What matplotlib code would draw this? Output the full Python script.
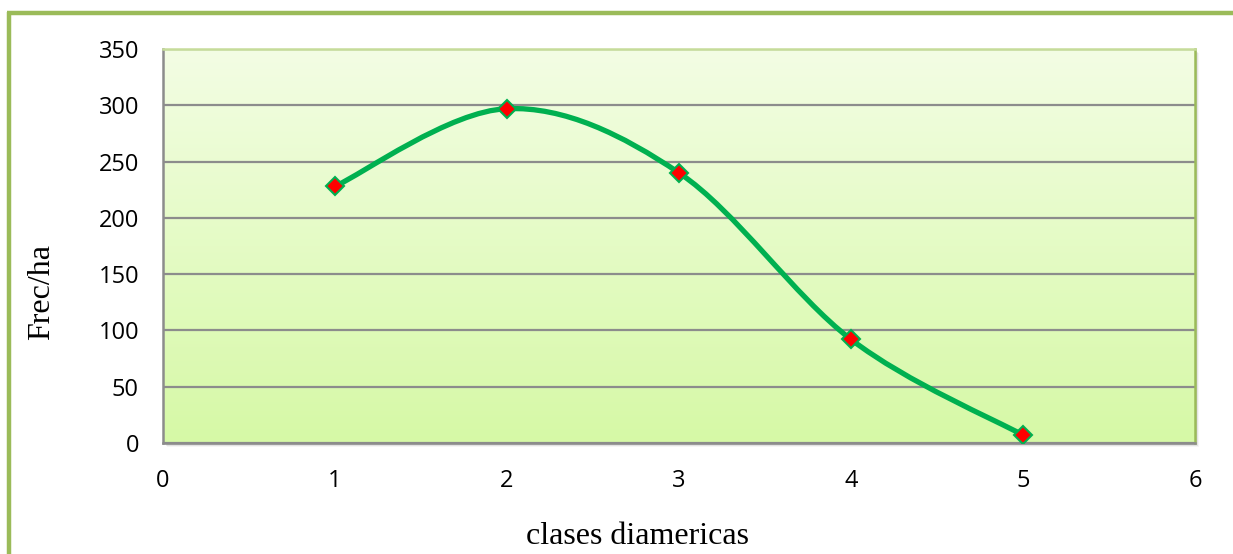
import numpy as np
import matplotlib
matplotlib.use("Agg")
import matplotlib.pyplot as plt
from matplotlib.path import Path
from matplotlib.patches import PathPatch, Rectangle
from matplotlib.lines import Line2D

# diameter classes and stems per hectare
clases = [1, 2, 3, 4, 5]
frec_ha = [228, 297, 240, 92, 7]
x_ticks = [0, 1, 2, 3, 4, 5, 6]
y_ticks = [0, 50, 100, 150, 200, 250, 300, 350]

W, H = 1233, 554
fig = plt.figure(figsize=(W / 100, H / 100), dpi=100)
fig.patch.set_facecolor("white")

# outer green frame (top and left edges)
frame_c = "#9bbb59"
fig.add_artist(Line2D([7 / W, 1.0], [1 - 13 / H, 1 - 13 / H], color=frame_c, lw=3.2,
                      solid_capstyle="butt", transform=fig.transFigure))
fig.add_artist(Line2D([8.5 / W, 8.5 / W], [0, 1 - 11.5 / H], color=frame_c, lw=3.2,
                      solid_capstyle="butt", transform=fig.transFigure))

left, right, top, bottom = 163, 1195, 49, 443
ax_rect = [left / W, 1 - bottom / H, (right - left) / W, (bottom - top) / H]

# soft drop shadow behind plot area
for i, a in enumerate([0.10, 0.07, 0.04]):
    off = (i + 2)
    fig.add_artist(Rectangle(((left + off) / W, 1 - (bottom + off) / H),
                             (right - left) / W, (bottom - top) / H,
                             transform=fig.transFigure, facecolor="black",
                             edgecolor="none", alpha=a, zorder=0))

ax = fig.add_axes(ax_rect)
ax.set_zorder(1)

# vertical gradient fill of the plot area
top_c = np.array([243, 253, 228]) / 255
bot_c = np.array([214, 249, 166]) / 255
t = np.linspace(0, 1, 256)[:, None]
grad = (top_c * (1 - t) + bot_c * t)[:, None, :]
ax.imshow(grad, extent=[0, 1, 0, 1], transform=ax.transAxes, aspect="auto",
          zorder=0, interpolation="bicubic")

ax.set_xlim(0, 6)
ax.set_ylim(0, 350)
ax.set_xticks(x_ticks)
ax.set_yticks(y_ticks)
ax.set_xticklabels([str(v) for v in x_ticks])
ax.set_yticklabels([str(v) for v in y_ticks])
ax.tick_params(length=0, labelsize=17)
ax.tick_params(axis="y", pad=17.3)
ax.tick_params(axis="x", pad=18.5)
for lab in ax.get_xticklabels() + ax.get_yticklabels():
    lab.set_fontfamily("Open Sans")

ax.grid(axis="y", color="#8c8c8c", lw=1.6, zorder=1)
ax.set_axisbelow(True)

ax.spines["left"].set_color("#8c8c8c")
ax.spines["bottom"].set_color("#8c8c8c")
ax.spines["top"].set_color("#c6dc9a")
ax.spines["right"].set_color(frame_c)
for s in ax.spines.values():
    s.set_linewidth(1.8)

# smoothed line (Catmull-Rom style Bezier segments through the points)
px = np.array(clases, dtype=float)
py = np.array(frec_ha, dtype=float)
P = np.column_stack([px, py])
Pe = np.vstack([P[0], P, P[-1]])
verts = [tuple(P[0])]
codes = [Path.MOVETO]
for i in range(len(P) - 1):
    p0, p1, p2, p3 = Pe[i], Pe[i + 1], Pe[i + 2], Pe[i + 3]
    c1 = p1 + (p2 - p0) / 6.0
    c2 = p2 - (p3 - p1) / 6.0
    verts += [tuple(c1), tuple(c2), tuple(p2)]
    codes += [Path.CURVE4] * 3
ax.add_patch(PathPatch(Path(verts, codes), facecolor="none", edgecolor="#00b050",
                       lw=3.8, capstyle="round", joinstyle="round", zorder=3))

ax.plot(px, py, linestyle="none", marker="D", markersize=8.7,
        markerfacecolor="#ff0000", markeredgecolor="#00b050",
        markeredgewidth=1.5, zorder=4)

fig.text(42 / W, 1 - 292 / H, "Frec/ha", rotation=90, ha="center", va="center",
         fontsize=23, fontfamily="Liberation Serif")
fig.text(637 / W, 1 - 537 / H, "clases diamericas", ha="center", va="center",
         fontsize=23, fontfamily="Liberation Serif")

fig.savefig("out.png", dpi=100)
